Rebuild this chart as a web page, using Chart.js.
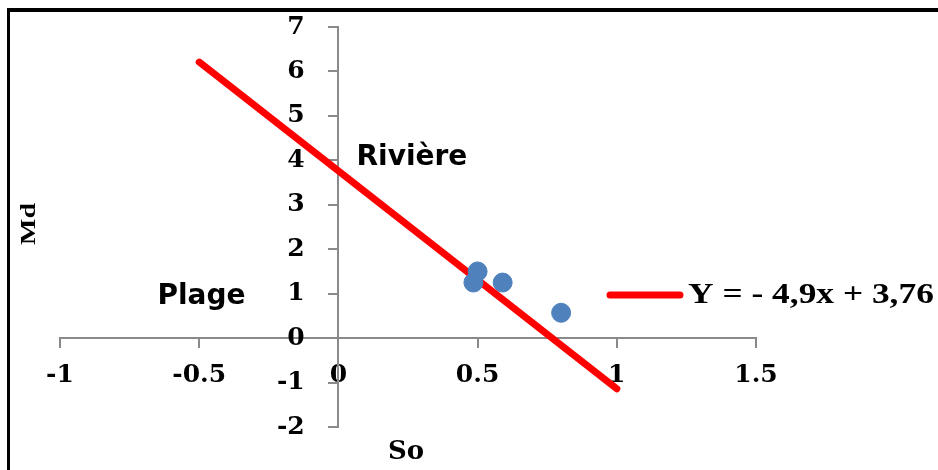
<!DOCTYPE html>
<html>
<head>
<meta charset="utf-8">
<script src="https://cdn.jsdelivr.net/npm/chart.js@4.4.1/dist/chart.umd.min.js"></script>
<style>
  html, body { margin: 0; padding: 0; background: #fff; }
  #wrap { position: relative; width: 938px; height: 470px; overflow: hidden; background: #fff; }
  #frame { position: absolute; left: 7px; top: 8px; right: -10px; bottom: -10px;
           border-top: 4px solid #000; border-left: 3px solid #000; }
  #c { position: absolute; left: 0; top: 0; }
</style>
</head>
<body>
<div id="wrap">
  <div id="frame"></div>
  <canvas id="c" width="938" height="470"></canvas>
</div>
<script>
// Sorting (So) against median grain size (Md) for the sampled sediments
const soValues = [0.485, 0.5, 0.59, 0.8];
const mdValues = [1.25, 1.5, 1.25, 0.57];

// Fitted line Y = -4,9x + 3,76, drawn over So = -0.5 .. 1
const fitSlope = -4.9;
const fitIntercept = 3.76;
const fitRangeX = [-0.5, 1];
const fitLabel = 'Y = - 4,9x + 3,76';

// Axis ticks
const xTicks = [-1, -0.5, 0, 0.5, 1, 1.5];
const yTicks = [-2, -1, 0, 1, 2, 3, 4, 5, 6, 7];

// Environment labels
const zoneNames = ['Rivière', 'Plage'];

const samplePoints = soValues.map((s, i) => ({ x: s, y: mdValues[i] }));
const fitPoints = fitRangeX.map(x => ({ x: x, y: fitSlope * x + fitIntercept }));

const tickFont = { family: '"DejaVu Serif", serif', size: 25, weight: 'bold' };
const axisGrey = '#8a8a8a';
// y labels sit at the axis line itself, so keep a gap after the number
const yLabelGap = '\u2002\u2002 ';

const annotations = {
  id: 'annotations',
  afterDraw(chart) {
    const { ctx, chartArea: a, scales: { x, y } } = chart;
    ctx.save();
    ctx.fillStyle = '#000';
    ctx.textBaseline = 'middle';

    // axis titles
    ctx.textAlign = 'center';
    ctx.font = 'bold 26px "DejaVu Serif", serif';
    ctx.fillText('So', (a.left + a.right) / 2 - 2, a.bottom + 25);
    ctx.save();
    ctx.translate(30, (a.top + a.bottom) / 2 - 3);
    ctx.rotate(-Math.PI / 2);
    ctx.scale(1.4, 1);
    ctx.font = 'bold 20px "Liberation Serif", serif';
    ctx.fillText('Md', 0, 0);
    ctx.restore();

    // environment names
    ctx.font = 'bold 28px "DejaVu Sans", sans-serif';
    ctx.textAlign = 'left';
    ctx.fillText(zoneNames[0], x.getPixelForValue(0.065), y.getPixelForValue(4.05));
    ctx.fillText(zoneNames[1], x.getPixelForValue(-0.65), y.getPixelForValue(0.93));

    // legend entry for the fitted line
    const fitSet = chart.data.datasets[1];
    const ly = a.top + 268;
    ctx.strokeStyle = fitSet.borderColor;
    ctx.lineWidth = 7;
    ctx.lineCap = 'round';
    ctx.beginPath();
    ctx.moveTo(a.right - 146, ly);
    ctx.lineTo(a.right - 76, ly);
    ctx.stroke();
    ctx.font = 'bold 30px "Liberation Serif", serif';
    ctx.translate(a.right - 68, ly);
    ctx.scale(1.18, 1);
    ctx.fillText(fitSet.label, 0, 0);
    ctx.restore();
  }
};

new Chart(document.getElementById('c'), {
  type: 'scatter',
  data: {
    datasets: [
      {
        label: 'Échantillons',
        data: samplePoints,
        backgroundColor: '#4F81BD',
        borderColor: '#4F81BD',
        pointRadius: 9.5,
        pointHoverRadius: 9.5,
        order: 0
      },
      {
        type: 'line',
        label: fitLabel,
        data: fitPoints,
        borderColor: '#FF0000',
        borderWidth: 7,
        borderCapStyle: 'round',
        pointRadius: 0,
        fill: false,
        order: 1
      }
    ]
  },
  options: {
    responsive: false,
    animation: false,
    events: [],
    layout: { padding: { left: 60, right: 182, top: 27, bottom: 43 } },
    plugins: { legend: { display: false }, tooltip: { enabled: false } },
    scales: {
      x: {
        type: 'linear',
        position: { y: 0 },
        min: -1, max: 1.5,
        afterBuildTicks: s => { s.ticks = xTicks.map(v => ({ value: v })); },
        afterFit: s => { s.height = 0; },
        ticks: { font: tickFont, color: '#000', padding: 13, maxRotation: 0,
                 callback: v => String(v) },
        grid: { drawOnChartArea: false, drawTicks: true, tickLength: 9, color: axisGrey, lineWidth: 2 },
        border: { display: true, color: axisGrey, width: 2 }
      },
      y: {
        type: 'linear',
        position: { x: 0 },
        min: -2, max: 7,
        afterBuildTicks: s => { s.ticks = yTicks.map(v => ({ value: v })); },
        afterFit: s => { s.width = 0; },
        ticks: { font: tickFont, color: '#000', padding: 0,
                 callback: v => String(v) + yLabelGap },
        grid: { drawOnChartArea: false, drawTicks: true, tickLength: 9, color: axisGrey, lineWidth: 2 },
        border: { display: true, color: axisGrey, width: 2 }
      }
    }
  },
  plugins: [annotations]
});
</script>
</body>
</html>
